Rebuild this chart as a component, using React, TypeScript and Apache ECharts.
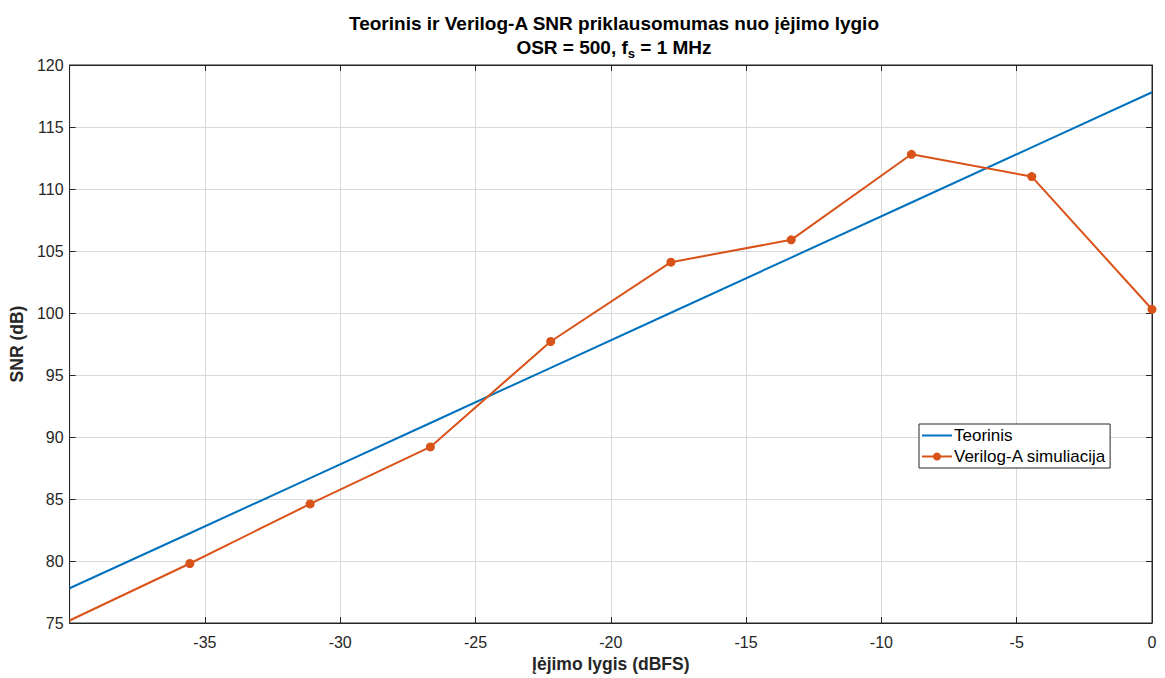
import React, { useEffect, useRef } from "react";
import * as echarts from "echarts";

const xValues = [-40, -35.556, -31.111, -26.667, -22.222, -17.778, -13.333, -8.889, -4.444, 0];
const theoryValues = [77.8, 82.24, 86.69, 91.13, 95.58, 100.02, 104.47, 108.91, 113.36, 117.8];
const simValues = [75.2, 79.8, 84.6, 89.2, 97.7, 104.1, 105.9, 112.8, 111.0, 100.3];
const seriesNames = ["Teorinis", "Verilog-A simuliacija"];

const FONT = "'Liberation Sans', Arial, Helvetica, sans-serif";

export default function App() {
  const ref = useRef<HTMLDivElement>(null);
  useEffect(() => {
    if (!ref.current) return;
    const chart = echarts.init(ref.current, null, { renderer: "svg" });
    const axisColor = "#262626";
    const gridColor = "#d9d9d9";
    chart.setOption({
      animation: false,
      backgroundColor: "#ffffff",
      textStyle: { fontFamily: FONT },
      title: {
        left: 609,
        textAlign: "center",
        top: 6,
        text: "{t|Teorinis ir Verilog-A SNR priklausomumas nuo įėjimo lygio}\n{t|OSR = 500, f}{s|s}{t| = 1 MHz}",
        textStyle: {
          rich: {
            t: { fontSize: 19, fontWeight: "bold", color: "#000", fontFamily: FONT, lineHeight: 24 },
            s: { fontSize: 13, fontWeight: "bold", color: "#000", fontFamily: FONT, lineHeight: 24, padding: [12, 0, 0, 0] },
          },
        },
      },
      grid: { left: 66, right: 13, top: 65, bottom: 55, show: true, borderColor: axisColor, borderWidth: 1 },
      legend: {
        left: 919,
        top: 424,
        orient: "vertical",
        backgroundColor: "#fff",
        borderColor: axisColor,
        borderWidth: 1,
        borderRadius: 0,
        padding: [3, 4, 3, 2],
        itemGap: 4,
        itemWidth: 30,
        itemHeight: 10,
        textStyle: { fontSize: 17, color: "#000", fontFamily: FONT, padding: [0, 0, 0, -3] },
        data: [
          { name: seriesNames[0], itemStyle: { opacity: 0 } },
          { name: seriesNames[1] },
        ],
      },
      xAxis: [
        {
          type: "value",
          min: -40,
          max: 0,
          interval: 5,
          name: "Įėjimo lygis (dBFS)",
          nameLocation: "middle",
          nameGap: 29,
          nameTextStyle: { fontSize: 17.5, fontWeight: "bold", color: "#262626", fontFamily: FONT },
          axisLine: { show: true, onZero: false, lineStyle: { color: axisColor } },
          axisTick: { show: true, inside: true, length: 6, lineStyle: { color: axisColor } },
          axisLabel: {
            fontSize: 16,
            color: "#262626",
            margin: 11,
            fontFamily: FONT,
            formatter: (v: number) => (v === -40 ? "" : String(v)),
          },
          splitLine: { show: true, lineStyle: { color: gridColor } },
        },
        {
          type: "value",
          position: "top",
          min: -40,
          max: 0,
          interval: 5,
          axisLine: { show: true, onZero: false, lineStyle: { color: axisColor } },
          axisTick: { show: true, inside: true, length: 6, lineStyle: { color: axisColor } },
          axisLabel: { show: false },
          splitLine: { show: false },
        },
      ],
      yAxis: [
        {
          type: "value",
          min: 75,
          max: 120,
          interval: 5,
          name: "SNR (dB)",
          nameLocation: "middle",
          nameGap: 36,
          nameTextStyle: { fontSize: 17.5, fontWeight: "bold", color: "#262626", fontFamily: FONT },
          axisLine: { show: true, onZero: false, lineStyle: { color: axisColor } },
          axisTick: { show: true, inside: true, length: 6, lineStyle: { color: axisColor } },
          axisLabel: { fontSize: 16, color: "#262626", margin: 6, fontFamily: FONT },
          splitLine: { show: true, lineStyle: { color: gridColor } },
        },
        {
          type: "value",
          position: "right",
          min: 75,
          max: 120,
          interval: 5,
          axisLine: { show: true, onZero: false, lineStyle: { color: axisColor } },
          axisTick: { show: true, inside: true, length: 6, lineStyle: { color: axisColor } },
          axisLabel: { show: false },
          splitLine: { show: false },
        },
      ],
      series: [
        {
          name: seriesNames[0],
          type: "line",
          data: xValues.map((x, i) => [x, theoryValues[i]]),
          showSymbol: false,
          symbol: "none",
          lineStyle: { color: "#0072BD", width: 2 },
          itemStyle: { color: "#0072BD" },
        },
        {
          name: seriesNames[1],
          type: "line",
          data: xValues.map((x, i) =>
            i === 0 ? { value: [x, simValues[i]], symbol: "none" } : [x, simValues[i]]
          ),
          symbol: "circle",
          symbolSize: 9,
          lineStyle: { color: "#D95319", width: 2 },
          itemStyle: { color: "#D95319" },
        },
      ],
    });
    return () => chart.dispose();
  }, []);
  return (
    <div
      ref={ref}
      style={{ position: "fixed", left: 0, top: 0, width: 1165, height: 678 }}
    />
  );
}
